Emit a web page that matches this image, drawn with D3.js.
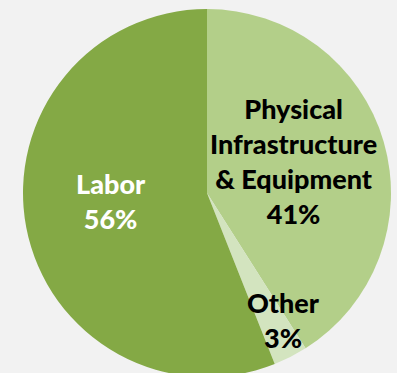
<!DOCTYPE html>
<html>
<head>
<meta charset="utf-8">
<script src="https://cdn.jsdelivr.net/npm/d3@7"></script>
<style>
  html, body { margin: 0; padding: 0; background: #f2f2f2; }
  #vis_container { width: 397px; height: 373px; }
</style>
</head>
<body>
<div id="vis_container"></div>
<script>
// data, clockwise from 12 o'clock
var categories = ["Physical Infrastructure & Equipment", "Other", "Labor"];
var labelLines = [["Physical", "Infrastructure", "& Equipment"], ["Other"], ["Labor"]];
var values = [41, 3, 56];
var colors = ["#b3cf89", "#d3e4bf", "#84a945"];
var textColors = ["#000000", "#000000", "#ffffff"];

var chart = {};
chart.width = 397;
chart.height = 373;
chart.cx = 207;
chart.cy = 193;
chart.radius = 184;
// where each label sits: share of the radius, then a nudge like Excel's
chart.labelRadius = [0.49, 0.79, 0.55];
chart.labelNudge = [[0, -6], [10, -1], [3, -10]];
chart.lineHeight = 35;

chart.svg = d3.select("#vis_container").append("svg")
	.attr("width", chart.width)
	.attr("height", chart.height);

chart.svg.append("rect")
	.attr("width", chart.width)
	.attr("height", chart.height)
	.attr("fill", "#f2f2f2");

var pie = d3.pie().sort(null).value(function(d) { return d; });
var arcs = pie(values);
var arc = d3.arc().innerRadius(0).outerRadius(chart.radius);

var g = chart.svg.append("g")
	.attr("transform", "translate(" + chart.cx + "," + chart.cy + ")");

g.selectAll(".slice")
	.data(arcs)
	.enter().append("path")
	.attr("class", "slice")
	.attr("d", arc)
	.attr("fill", function(d, i) { return colors[i]; });

var labels = g.selectAll(".label")
	.data(arcs)
	.enter().append("text")
	.attr("class", "label")
	.attr("text-anchor", "middle")
	.attr("font-family", "Lato, 'Open Sans', sans-serif")
	.attr("font-weight", "900")
	.attr("font-size", "27px")
	.attr("fill", function(d, i) { return textColors[i]; })
	.attr("transform", function(d, i) {
		var r = chart.radius * chart.labelRadius[i];
		var c = d3.arc().innerRadius(r).outerRadius(r).centroid(d);
		return "translate(" + (c[0] + chart.labelNudge[i][0]) + "," + (c[1] + chart.labelNudge[i][1]) + ")";
	});

labels.each(function(d, i) {
	var lines = labelLines[i].concat([values[i] + "%"]);
	var t = d3.select(this);
	var offset = -(lines.length - 1) / 2 * chart.lineHeight;
	lines.forEach(function(line, j) {
		t.append("tspan")
			.attr("x", 0)
			.attr("y", offset + j * chart.lineHeight)
			.attr("dy", "0.35em")
			.text(line);
	});
});
</script>
</body>
</html>
